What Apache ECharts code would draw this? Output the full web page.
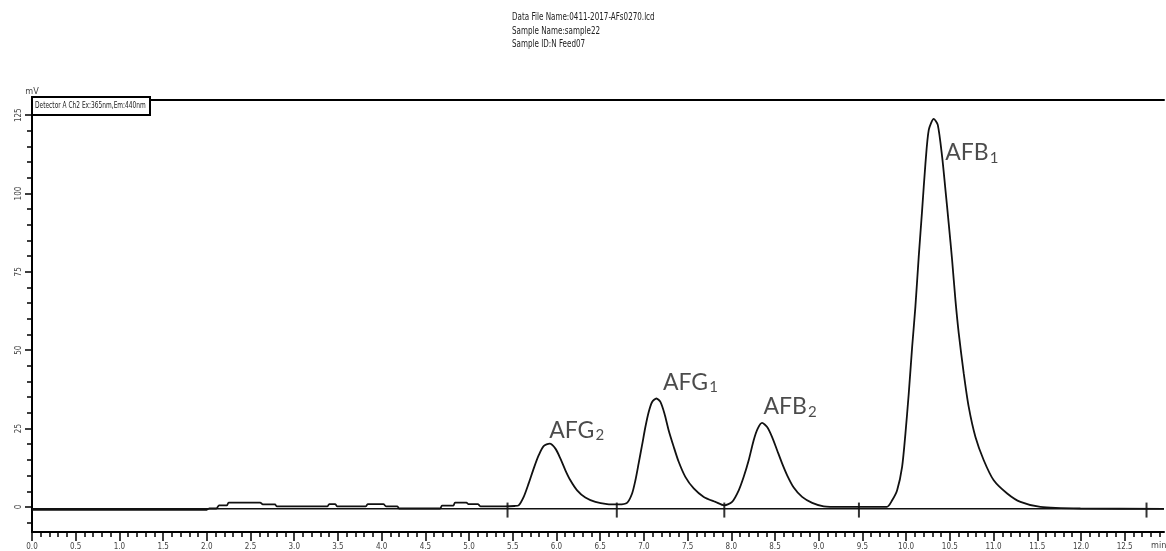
<!DOCTYPE html>
<html>
<head>
<meta charset="utf-8">
<script src="https://cdn.jsdelivr.net/npm/echarts@6/dist/echarts.min.js"></script>
<style>
  html, body { margin: 0; padding: 0; background: #fff; }
  #chart { width: 1166px; height: 551px; }
</style>
</head>
<body>
<div id="chart"></div>
<script>
// ---------- data ----------
const signalTime = [
  0.00, 2.00, 2.03, 2.11, 2.14, 2.23, 2.25, 2.61, 2.64, 2.78, 2.80, 3.38, 3.40, 3.47, 3.49, 3.82,
  3.84, 4.02, 4.05, 4.18, 4.20, 4.67, 4.69, 4.82, 4.84, 4.97, 4.99, 5.10, 5.13, 5.41, 5.52,
  5.567, 5.625, 5.682, 5.740, 5.797, 5.853, 5.922, 5.988, 6.044, 6.102, 6.159, 6.236, 6.330, 6.445, 6.579, 6.712,
  6.807, 6.865, 6.903, 6.940, 6.979, 7.017, 7.055, 7.094, 7.143, 7.189, 7.235, 7.283, 7.341, 7.398, 7.474, 7.570, 7.685, 7.818, 7.920,
  8.009, 8.085, 8.142, 8.199, 8.256, 8.302, 8.352, 8.410, 8.467, 8.524, 8.581, 8.639, 8.714, 8.810, 8.925, 9.057, 9.248, 9.780,
  9.840, 9.897, 9.954, 9.992, 10.030, 10.069, 10.106, 10.144, 10.183, 10.221, 10.259, 10.316, 10.362, 10.412, 10.450, 10.487,
  10.526, 10.564, 10.602, 10.659, 10.716, 10.793, 10.888, 11.002, 11.156, 11.308, 11.536, 11.994, 12.950
];
const signalMv = [
  -0.9, -0.9, -0.5, -0.5, 0.5, 0.5, 1.4, 1.4, 0.8, 0.8, 0.2, 0.2, 0.9, 0.9, 0.2, 0.2,
  0.9, 0.9, 0.2, 0.2, -0.5, -0.5, 0.4, 0.4, 1.4, 1.4, 0.9, 0.9, 0.2, 0.2, 0.3,
  0.5, 3.2, 7.5, 12.3, 16.5, 19.4, 20.2, 18.6, 15.5, 11.7, 8.5, 5.3, 3.0, 1.6, 0.9, 0.8,
  1.3, 4.3, 8.5, 13.9, 19.7, 25.5, 30.3, 33.5, 34.6, 33.5, 29.8, 24.5, 19.2, 14.4, 9.6, 5.9, 3.2, 1.6, 0.5,
  1.6, 5.3, 9.6, 14.9, 21.3, 25.0, 26.8, 25.5, 22.3, 18.1, 13.9, 10.1, 6.2, 3.2, 1.3, 0.2, 0.0, 0.0,
  2.1, 5.3, 12.8, 23.4, 36.2, 51.1, 63.9, 79.8, 94.7, 109.6, 120.3, 123.8, 121.9, 111.7, 101.1, 90.5,
  78.8, 66.0, 55.4, 42.6, 31.9, 22.3, 14.9, 8.5, 4.3, 1.6, 0.0, -0.5, -0.6
];
const baselineTime = [0, 12.95];
const baselineMv = [-0.6, -0.6];
const integrationMarkTime = [5.44, 6.69, 7.92, 9.46, 12.75];

const peakNames = ['AFG', 'AFG', 'AFB', 'AFB'];
const peakSubs = ['2', '1', '2', '1'];
const peakTime = [5.922, 7.143, 8.352, 10.316];
const peakMv = [20.2, 34.6, 26.8, 123.8];

const xTickLabels = ['0.0','0.5','1.0','1.5','2.0','2.5','3.0','3.5','4.0','4.5','5.0','5.5','6.0','6.5',
  '7.0','7.5','8.0','8.5','9.0','9.5','10.0','10.5','11.0','11.5','12.0','12.5'];
const yTickLabels = ['0','25','50','75','100','125'];

const headerLines = [
  'Data File Name:0411-2017-AFs0270.lcd',
  'Sample Name:sample22',
  'Sample ID:N Feed07'
];
const detectorText = 'Detector A Ch2 Ex:365nm,Em:440nm';
const yUnit = 'mV';
const xUnit = 'min';

// ---------- build ----------
const X_MIN = 0, X_MAX = 12.95, Y_MIN = -8, Y_MAX = 130;
const xMajor = xTickLabels.map(Number);
const xMinor = [];
for (let i = 0; i < xMajor.length; i++) {
  for (let k = 1; k < 5; k++) {
    const v = +(xMajor[i] + k * 0.1).toFixed(2);
    if (v < X_MAX) xMinor.push(v);
  }
}
const yMajor = yTickLabels.map(Number);
const yMinor = [];
for (let v = -5; v <= 125; v += 5) if (yMajor.indexOf(v) < 0) yMinor.push(v);

const signal = signalTime.map((t, i) => [t, signalMv[i]]);
const baseline = baselineTime.map((t, i) => [t, baselineMv[i]]);
const marks = integrationMarkTime.map(t => [t, -1.0]);

const labelOffsets = [[27, -13], [34, -16], [28, -16], [38, 34]];
const peaks = peakTime.map((t, i) => ({
  value: [t, peakMv[i]],
  label: { offset: labelOffsets[i], formatter: '{a|' + peakNames[i] + '}{s|' + peakSubs[i] + '}' }
}));

const labelFont = '"Liberation Sans Narrow", "DejaVu Sans Condensed", "Liberation Sans", sans-serif';
const peakFont = 'Lato, "Open Sans", sans-serif';
const axisBase = { min: X_MIN, max: X_MAX, type: 'value', splitLine: { show: false } };

const chart = echarts.init(document.getElementById('chart'), null, { renderer: 'canvas' });
chart.setOption({
  animation: false,
  backgroundColor: '#fff',
  grid: { left: 32, right: 2, top: 99.5, bottom: 19 },
  xAxis: [
    Object.assign({}, axisBase, {
      position: 'bottom',
      axisLine: { show: true, onZero: false, lineStyle: { color: '#000', width: 2 } },
      axisTick: { show: true, customValues: xMinor, length: 5, lineStyle: { color: '#000', width: 1.5 } },
      axisLabel: { show: false }
    }),
    Object.assign({}, axisBase, {
      position: 'bottom',
      axisLine: { show: false, onZero: false },
      axisTick: { show: true, customValues: xMajor, length: 9, lineStyle: { color: '#000', width: 1.5 } },
      axisLabel: {
        show: true, customValues: xMajor, margin: 11, fontSize: 8, color: '#444',
        fontFamily: labelFont, formatter: v => v.toFixed(1)
      }
    }),
    Object.assign({}, axisBase, {
      position: 'top',
      axisLine: { show: true, onZero: false, lineStyle: { color: '#000', width: 2 } },
      axisTick: { show: false }, axisLabel: { show: false }
    })
  ],
  yAxis: [
    {
      type: 'value', min: Y_MIN, max: Y_MAX, position: 'left',
      splitLine: { show: false },
      axisLine: { show: true, onZero: false, lineStyle: { color: '#000', width: 2 } },
      axisTick: { show: true, customValues: yMinor, length: 5, lineStyle: { color: '#000', width: 1.5 } },
      axisLabel: { show: false },
      name: yUnit, nameLocation: 'end', nameGap: 3,
      nameTextStyle: { fontSize: 9, color: '#444', fontFamily: labelFont, align: 'center' }
    },
    {
      type: 'value', min: Y_MIN, max: Y_MAX, position: 'left',
      splitLine: { show: false },
      axisLine: { show: false, onZero: false },
      axisTick: { show: true, customValues: yMajor, length: 7, lineStyle: { color: '#000', width: 1.5 } },
      axisLabel: {
        show: true, customValues: yMajor, rotate: 90, margin: 9, fontSize: 8, color: '#444',
        fontFamily: labelFont
      }
    }
  ],
  series: [
    {
      type: 'line', data: baseline, xAxisIndex: 0, yAxisIndex: 0,
      showSymbol: false, lineStyle: { color: '#111', width: 1.5 }, silent: true
    },
    {
      type: 'line', data: signal, xAxisIndex: 0, yAxisIndex: 0,
      showSymbol: false, smooth: 0.25, lineStyle: { color: '#111', width: 1.8 }, silent: true
    },
    {
      type: 'scatter', data: marks, xAxisIndex: 0, yAxisIndex: 0,
      symbol: 'rect', symbolSize: [2, 15], itemStyle: { color: '#000' }, silent: true
    },
    {
      type: 'scatter', data: peaks, xAxisIndex: 0, yAxisIndex: 0,
      symbolSize: 0, silent: true,
      label: {
        show: true, position: 'inside', color: '#1e1e1e',
        rich: {
          a: { fontSize: 23, fontFamily: peakFont, color: '#1e1e1e' },
          s: { fontSize: 15, fontFamily: peakFont, color: '#1e1e1e', verticalAlign: 'bottom', padding: [10, 0, 0, 1] }
        }
      }
    }
  ],
  graphic: [
    { type: 'text', x: 512, y: 12, scaleX: 0.76, style: { text: headerLines[0], fontSize: 10.5, fill: '#222', fontFamily: labelFont } },
    { type: 'text', x: 512, y: 26, scaleX: 0.76, style: { text: headerLines[1], fontSize: 10.5, fill: '#222', fontFamily: labelFont } },
    { type: 'text', x: 512, y: 39, scaleX: 0.76, style: { text: headerLines[2], fontSize: 10.5, fill: '#222', fontFamily: labelFont } },
    { type: 'rect', z: 100, shape: { x: 32, y: 97, width: 118, height: 18 },
      style: { fill: '#fff', stroke: '#000', lineWidth: 2 } },
    { type: 'text', z: 101, x: 35, y: 101.5, scaleX: 0.77, style: { text: detectorText, fontSize: 8.5, fill: '#222', fontFamily: labelFont } },
    { type: 'text', x: 1151, y: 541, style: { text: xUnit, fontSize: 9, fill: '#444', fontFamily: labelFont } }
  ]
});
</script>
</body>
</html>
